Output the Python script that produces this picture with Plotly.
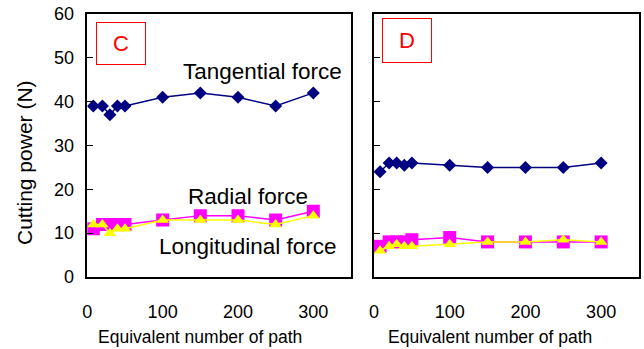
import plotly.graph_objects as go

# Data
path = [8, 20, 30, 40, 50, 100, 150, 200, 250, 300]

c_tangential = [39, 39, 37, 39, 39, 41, 42, 41, 39, 42]
c_radial = [11, 12, 12, 12, 12, 13, 14, 14, 13, 15]
c_longitudinal = [12, 12, 10, 11, 11, 13, 13, 13, 12, 14]

d_tangential = [24, 26, 26, 25.5, 26, 25.5, 25, 25, 25, 26]
d_radial = [7, 8, 8, 8, 8.5, 9, 8, 8, 8, 8]
d_longitudinal = [6, 7, 7.5, 7, 7, 7.5, 8, 8, 8.5, 8]

x_ticks = [0, 100, 200, 300]
y_ticks = [0, 10, 20, 30, 40, 50, 60]

FONT = "Liberation Sans, Arial, sans-serif"
NAVY = "#000080"
MAG = "#FF00FF"
YEL = "#FFFF00"

W, H = 644, 349
fig = go.Figure()

def add_panel(xa, ya, tang, rad, lon):
    fig.add_trace(go.Scatter(x=path, y=tang, mode="lines+markers", xaxis=xa, yaxis=ya,
                             line=dict(color=NAVY, width=1.5),
                             marker=dict(symbol="diamond", size=10, color=NAVY),
                             showlegend=False))
    fig.add_trace(go.Scatter(x=path, y=rad, mode="lines+markers", xaxis=xa, yaxis=ya,
                             line=dict(color=MAG, width=1.5),
                             marker=dict(symbol="square", size=13, color=MAG),
                             showlegend=False))
    fig.add_trace(go.Scatter(x=path, y=lon, mode="lines+markers", xaxis=xa, yaxis=ya,
                             line=dict(color=YEL, width=1.5),
                             marker=dict(symbol="triangle-up", size=11, color=YEL),
                             showlegend=False))

add_panel("x", "y", c_tangential, c_radial, c_longitudinal)
add_panel("x2", "y2", d_tangential, d_radial, d_longitudinal)

ydom = [1 - 277 / H, 1 - 14 / H]
axis_common = dict(range=[0, 350], showgrid=False, zeroline=False, showline=True,
                   linecolor="black", linewidth=1.5, mirror=True, ticks="",
                   tickvals=x_ticks, tickfont=dict(family=FONT, size=18, color="black"),
                   ticklabelstandoff=18)
yaxis_common = dict(range=[0, 60], showgrid=False, zeroline=False, showline=True,
                    linecolor="black", linewidth=1.5, mirror=True, ticks="inside",
                    ticklen=6, tickcolor="black", tickvals=y_ticks,
                    tickfont=dict(family=FONT, size=18, color="black"), domain=ydom)

fig.update_layout(
    width=W, height=H, margin=dict(l=0, r=0, t=0, b=0, autoexpand=False),
    paper_bgcolor="white", plot_bgcolor="white",
    xaxis=dict(domain=[87.3 / W, 351 / W], anchor="y", **axis_common),
    yaxis=dict(anchor="x", ticklabelstandoff=8, **yaxis_common),
    xaxis2=dict(domain=[374 / W, 639 / W], anchor="y2", **axis_common),
    yaxis2=dict(anchor="x2", showticklabels=False, **yaxis_common),
)

ann = []
txt = dict(family=FONT, color="black")
ctr = dict(showarrow=False, xanchor="center", yanchor="middle")
# panel labels
ann.append(dict(text="C", xref="x", yref="y", x=44.8, y=53.2,
                width=46, height=39, bordercolor="red", borderwidth=1,
                font=dict(family=FONT, size=22, color="red"), **ctr))
ann.append(dict(text="D", xref="x2", yref="y2", x=43.4, y=54.0,
                width=46, height=41, bordercolor="red", borderwidth=1,
                font=dict(family=FONT, size=22, color="red"), **ctr))
# series labels
ann.append(dict(text="Tangential force", xref="x", yref="y", x=233, y=46.9,
                font=dict(size=22.5, **txt), **ctr))
ann.append(dict(text="Radial force", xref="x", yref="y", x=213, y=18.3,
                font=dict(size=22.5, **txt), **ctr))
ann.append(dict(text="Longitudinal force", xref="x", yref="y", x=213, y=6.9,
                font=dict(size=22.5, **txt), **ctr))
# axis titles
ann.append(dict(text="Equivalent number of path", xref="paper", yref="paper",
                x=200 / W, y=1 - 337 / H, font=dict(size=17.5, **txt), **ctr))
ann.append(dict(text="Equivalent number of path", xref="paper", yref="paper",
                x=490 / W, y=1 - 337 / H, font=dict(size=17.5, **txt), **ctr))
ann.append(dict(text="Cutting power (N)", xref="paper", yref="paper",
                x=25 / W, y=1 - 163 / H, textangle=-90,
                font=dict(size=21, **txt), **ctr))
fig.update_layout(annotations=ann)

fig.write_html("out.html", config={"displayModeBar": False},
               post_script="document.body.style.margin='0px';")
